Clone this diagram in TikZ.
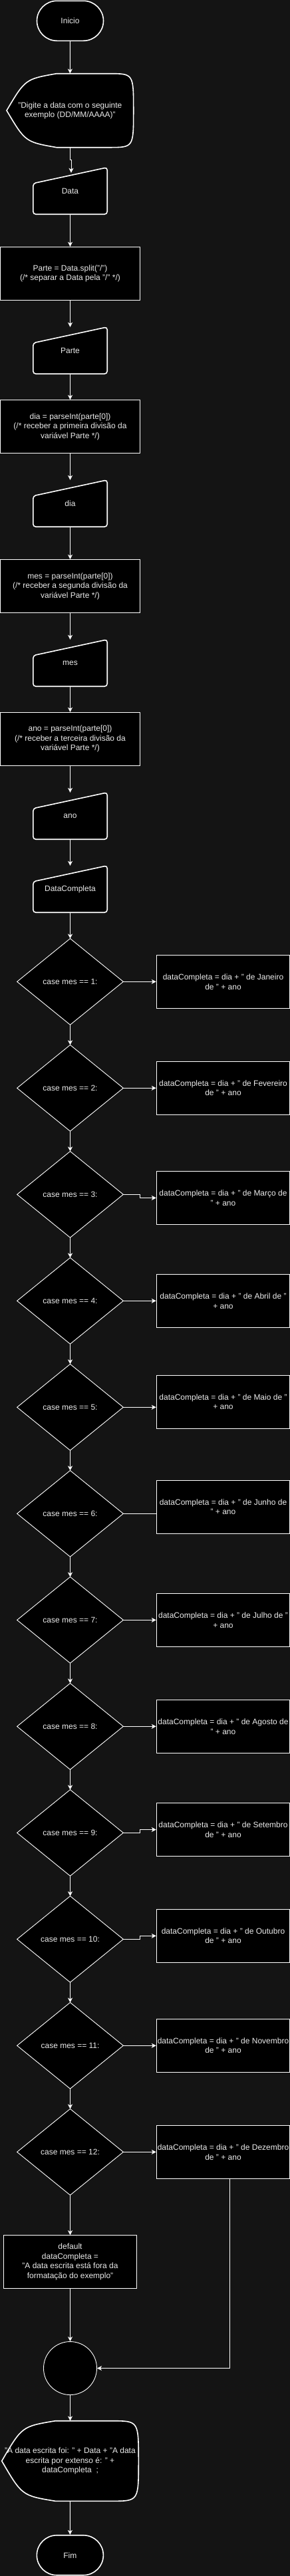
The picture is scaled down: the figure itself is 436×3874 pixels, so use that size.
\documentclass[tikz,border=0pt]{standalone}
\usepackage{fontspec}
\setmainfont{Liberation Sans}
\usetikzlibrary{arrows.meta,calc}
\definecolor{bgc}{RGB}{20,20,20}
\definecolor{txtc}{RGB}{235,235,235}
\pgfdeclarelayer{bg}
\pgfsetlayers{bg,main}
\tikzset{
  bx/.style={font=\fontsize{12pt}{14.5pt}\selectfont, text=txtc, align=center, inner sep=0pt},
  frm/.style={bx, rectangle, draw=none, fill=none},
  term/.style={bx, rectangle, draw=white, fill=black, line width=1.6pt, rounded corners=30pt, minimum width=100pt, minimum height=60pt},
  proc/.style={bx, rectangle, draw=white, fill=black, line width=1pt, minimum width=210pt, minimum height=80pt},
  mbox/.style={bx, rectangle, draw=white, fill=black, line width=1pt, minimum width=200.4pt, minimum height=79.6pt},
  shp/.style={draw=white, fill=black, line width=1.6pt},
  dshp/.style={draw=white, fill=black, line width=0.9pt},
  minp/.style={frm, minimum width=111pt, minimum height=70pt},
  dia/.style={frm, minimum width=159.3pt, minimum height=129.3pt},
  conn/.style={draw=white, line width=1pt, -{Stealth[length=7pt,width=7pt,inset=2pt]}},
  pline/.style={draw=white, line width=1pt},
}
\begin{document}
\begin{tikzpicture}[x=1pt,y=-1pt]
\useasboundingbox (0,0) rectangle (436,3874);
\begin{pgfonlayer}{bg}
\fill[bgc] (0,0) rectangle (436,3874);
\end{pgfonlayer}

% main column
\node[term] (inicio) at (105.5,31.3) {Inicio};
\node[frm, minimum width=190.7pt, minimum height=111pt] (digite) at (105.35,166.2) {"Digite a data com o seguinte\\exemplo (DD/MM/AAAA)"};
\node[minp] (iData) at (105.5,287) {Data};
\node[proc] (pParte) at (105.5,411.3) {Parte = Data.split("/")\\(/* separar a Data pela "/" */)};
\node[minp] (iParte) at (105.5,527) {Parte};
\node[proc] (pDia) at (105.5,641.5) {dia = parseInt(parte[0])\\(/* receber a primeira divisão da\\variável Parte */)};
\node[minp] (iDia) at (105.5,757) {dia};
\node[proc] (pMes) at (105.5,881.5) {mes = parseInt(parte[0])\\(/* receber a segunda divisão da\\variável Parte */)};
\node[minp] (iMes) at (105.5,997) {mes};
\node[proc] (pAno) at (105.5,1111.3) {ano = parseInt(parte[0])\\(/* receber a terceira divisão da\\variável Parte */)};
\node[minp] (iAno) at (105.5,1227) {ano};
\node[minp] (iDC) at (105.5,1337) {DataCompleta};

% diamonds
\foreach \i in {1,...,12} {
  \node[dia] (d\i) at (105.5,{1476.3+160*(\i-1)}) {case mes == \i:};
}

% month boxes
\node[mbox] (b1) at (335.5,1476.5) {dataCompleta = dia + " de Janeiro\\de " + ano};
\node[mbox] (b2) at (335.5,1636.3) {dataCompleta = dia + " de Fevereiro\\de " + ano};
\node[mbox] (b3) at (335.5,1801.5) {dataCompleta = dia + " de Março de\\" + ano};
\node[mbox] (b4) at (335.5,1956.7) {dataCompleta = dia + " de Abril de "\\+ ano};
\node[mbox] (b5) at (335.5,2108.3) {dataCompleta = dia + " de Maio de "\\+ ano};
\node[mbox] (b6) at (335.5,2266.3) {dataCompleta = dia + " de Junho de\\" + ano};
\node[mbox] (b7) at (335.5,2436.5) {dataCompleta = dia + " de Julho de "\\+ ano};
\node[mbox] (b8) at (335.5,2596.5) {dataCompleta = dia + " de Agosto de\\" + ano};
\node[mbox] (b9) at (335.5,2751.5) {dataCompleta = dia + " de Setembro\\de " + ano};
\node[mbox] (b10) at (335.5,2911.3) {dataCompleta = dia + " de Outubro\\de " + ano};
\node[mbox] (b11) at (335.5,3076.3) {dataCompleta = dia + " de Novembro\\de " + ano};
\node[mbox] (b12) at (335.5,3236.5) {dataCompleta = dia + " de Dezembro\\de " + ano};

% bottom part
\node[mbox] (dflt) at (105.5,3401.5) {default\\dataCompleta =\\"A data escrita está fora da\\formatação do exemplo"};
\node[circle, draw=white, fill=black, line width=0.9pt, minimum size=80pt, inner sep=0pt] (circ) at (105.5,3561.5) {};
\node[frm, minimum width=205.6pt, minimum height=120.6pt] (outp) at (105.5,3701) {"A data escrita foi: " + Data + "A data\\escrita por extenso é: " +\\dataCompleta\ \ ;};
\node[term] (fim) at (105.35,3842.7) {Fim};

% custom outlines on background layer
\begin{pgfonlayer}{bg}
\draw[shp] (10,166.2) .. controls (38,119) .. (85,110.7) -- (164,110.7)
  .. controls (200.7,110.7) .. (200.7,166.2) .. controls (200.7,221.7) .. (164,221.7)
  -- (85,221.7) .. controls (38,213.4) .. (10,166.2) -- cycle;
\draw[shp] (2.7,3701) .. controls (33,3649) .. (83,3640.7) -- (168,3640.7)
  .. controls (208.3,3640.7) .. (208.3,3701) .. controls (208.3,3761.3) .. (168,3761.3)
  -- (83,3761.3) .. controls (33,3753) .. (2.7,3701) -- cycle;
\foreach \n in {iData,iParte,iDia,iMes,iAno,iDC} {
  \draw[shp, rounded corners=4pt] ([yshift=-24pt]\n.north west) -- (\n.north east) -- (\n.south east) -- (\n.south west) -- cycle;
}
\foreach \i in {1,...,12} {
  \draw[dshp] (d\i.north) -- (d\i.east) -- (d\i.south) -- (d\i.west) -- cycle;
}
\end{pgfonlayer}

% connectors
\draw[conn] (inicio.south) -- (digite.north);
\draw[conn] (digite.south) |- ([xshift=1.5pt,yshift=11pt]iData.north) -- ([xshift=1.5pt,yshift=-8pt]iData.north);
\draw[conn] (iData.south) -- (pParte.north);
\draw[conn] (pParte.south) -- (iParte.north);
\draw[conn] (iParte.south) -- (pDia.north);
\draw[conn] (pDia.south) -- (iDia.north);
\draw[conn] (iDia.south) -- (pMes.north);
\draw[conn] (pMes.south) -- (iMes.north);
\draw[conn] (iMes.south) -- (pAno.north);
\draw[conn] (pAno.south) -- (iAno.north);
\draw[conn] (iAno.south) -- (iDC.north);
\draw[conn] (iDC.south) -- (d1.north);
\foreach \i [evaluate=\i as \j using int(\i+1)] in {1,...,11} {
  \draw[conn] (d\i.south) -- (d\j.north);
}
\foreach \i in {1,2,4,5,7,8,11,12} {
  \draw[conn] (d\i.east) -- (d\i.east -| b\i.west);
}
\draw[pline] (d6.east) -- (d6.east -| b6.west);
\foreach \i in {3,9,10} {
  \draw[conn] (d\i.east) -- ++(25,0) |- (b\i.west);
}
\draw[conn] (d12.south) -- (dflt.north);
\draw[conn] (dflt.south) -- (circ.north);
\draw[conn] ([xshift=9.8pt]b12.south) |- (circ.east);
\draw[conn] (circ.south) -- (outp.north);
\draw[conn] (outp.south) -- (fim.north);
\end{tikzpicture}
\end{document}
